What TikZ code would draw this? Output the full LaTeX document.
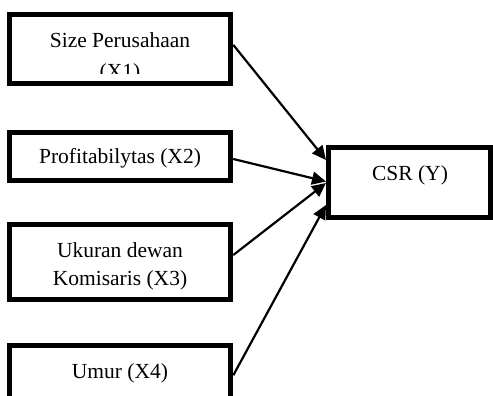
\documentclass[tikz,border=0pt]{standalone}
\usepackage{fontspec}
\setmainfont{Liberation Serif}
\usetikzlibrary{arrows.meta}
\begin{document}
\begin{tikzpicture}[x=1pt,y=-1pt,
  box/.style={draw=black,line width=5pt,rectangle,inner sep=0pt,fill=white},
  lbl/.style={anchor=base,inner sep=0pt,font=\fontsize{21.5}{26}\selectfont},
  arr/.style={line width=2.2pt,-{Triangle[length=14pt,width=13pt]}}]
\useasboundingbox (0,0) rectangle (493,396);
\clip (0,0) rectangle (493,396);
\node[box,minimum width=221pt,minimum height=69.2pt] (x1) at (120.3,48.9) {};
\node[box,minimum width=221pt,minimum height=48.2pt] (x2) at (120.3,156.6) {};
\node[box,minimum width=221pt,minimum height=75pt] (x3) at (120.3,261.5) {};
\node[box,minimum width=221pt,minimum height=59.5pt] (x4) at (120.3,375.25) {};
\node[box,minimum width=162pt,minimum height=70pt] (y) at (409.5,182.5) {};
\begin{scope}
\clip (12,17) rectangle (229,74);
\node[lbl] (t1a) at (120,47.3) {Size Perusahaan};
\node[lbl] (t1b) at (120,79) {(X1)};
\end{scope}
\node[lbl] (t2) at (120,163) {Profitabilytas (X2)};
\node[lbl] (t3a) at (120,257.3) {Ukuran dewan};
\node[lbl] (t3b) at (120,285.3) {Komisaris (X3)};
\node[lbl] (t4) at (120,378) {Umur (X4)};
\node[lbl] (ty) at (410,180) {CSR (Y)};
\draw[arr] ([yshift=4pt]x1.east) -- ([yshift=22.5pt]y.west);
\draw[arr] ([yshift=-2.4pt]x2.east) -- ([yshift=1pt]y.west);
\draw[arr] ([yshift=6.5pt]x3.east) -- ([yshift=-0.5pt]y.west);
\draw[arr] (x4.east) -- ([yshift=-22.5pt]y.west);
\end{tikzpicture}
\end{document}
